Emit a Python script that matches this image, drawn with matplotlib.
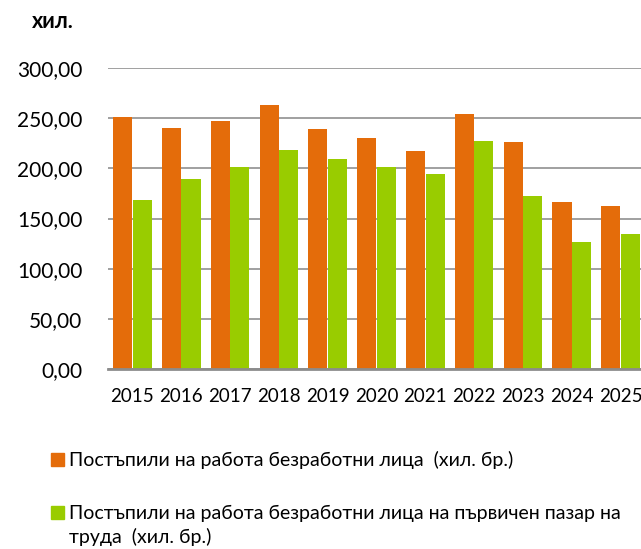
import numpy as np
import matplotlib
matplotlib.use('Agg')
import matplotlib.pyplot as plt
from matplotlib.patches import Rectangle

plt.rcParams['font.family'] = ['Lato', 'DejaVu Sans']

years = ['2015', '2016', '2017', '2018', '2019', '2020', '2021', '2022', '2023', '2024', '2025']
# постъпили на работа безработни лица (хил. бр.)
total = [251, 240, 247, 263, 239, 230, 217, 254, 226, 166, 162]
# от тях на първичен пазар на труда
primary = [168, 189, 201, 218, 209, 201, 194, 227, 172, 127, 135]

y_ticks = [0, 50, 100, 150, 200, 250, 300]
y_labels = ['0,00', '50,00', '100,00', '150,00', '200,00', '250,00', '300,00']

label_total = 'Постъпили на работа безработни лица  (хил. бр.)'
label_primary = 'Постъпили на работа безработни лица на първичен пазар на\nтруда  (хил. бр.)'

c_orange = '#E46C0A'
c_green = '#99CC00'

W, H = 641, 549
fig = plt.figure(figsize=(W / 100, H / 100), dpi=100)
ax = fig.add_axes([108 / W, 180 / H, (645 - 108) / W, 301 / H])

x = np.arange(len(years))
bw = 0.39
b1 = ax.bar(x - 0.2, total, width=bw, color=c_orange, zorder=2)
b2 = ax.bar(x + 0.2, primary, width=bw, color=c_green, zorder=2)

ax.set_xlim(-0.5, len(years) - 0.5)
ax.set_ylim(0, 300)
ax.set_yticks(y_ticks)
ax.set_yticklabels(y_labels, fontsize=15)
ax.set_xticks(x)
ax.set_xticklabels(years, fontsize=13.5)
ax.tick_params(axis='y', length=0, pad=18.5)
ax.tick_params(axis='x', length=0, pad=14)

ax.grid(axis='y', color='#A0A0A0', linewidth=1.4, zorder=0)
ax.set_axisbelow(True)
for s in ['left', 'right', 'top']:
    ax.spines[s].set_visible(False)
ax.spines['bottom'].set_color('#8C8C8C')
ax.spines['bottom'].set_linewidth(2)
ax.spines['bottom'].set_zorder(3)

fig.text(32 / W, 1 - 28 / H, 'хил.', fontsize=15.5, fontweight='bold', va='baseline')

# legend, drawn by hand so the square sits on the first line of the label
# (square baseline, baseline of last text line)
entries = [(c_orange, label_total, 466, 466), (c_green, label_primary, 519, 543)]
for color, text, sq_base, txt_base in entries:
    fig.patches.append(Rectangle((51 / W, 1 - sq_base / H), 13 / W, 13 / H,
                                 transform=fig.transFigure, color=color))
    fig.text(69 / W, 1 - txt_base / H, text, fontsize=14, va='baseline',
             linespacing=1.38)

fig.savefig('out.png', dpi=100)
